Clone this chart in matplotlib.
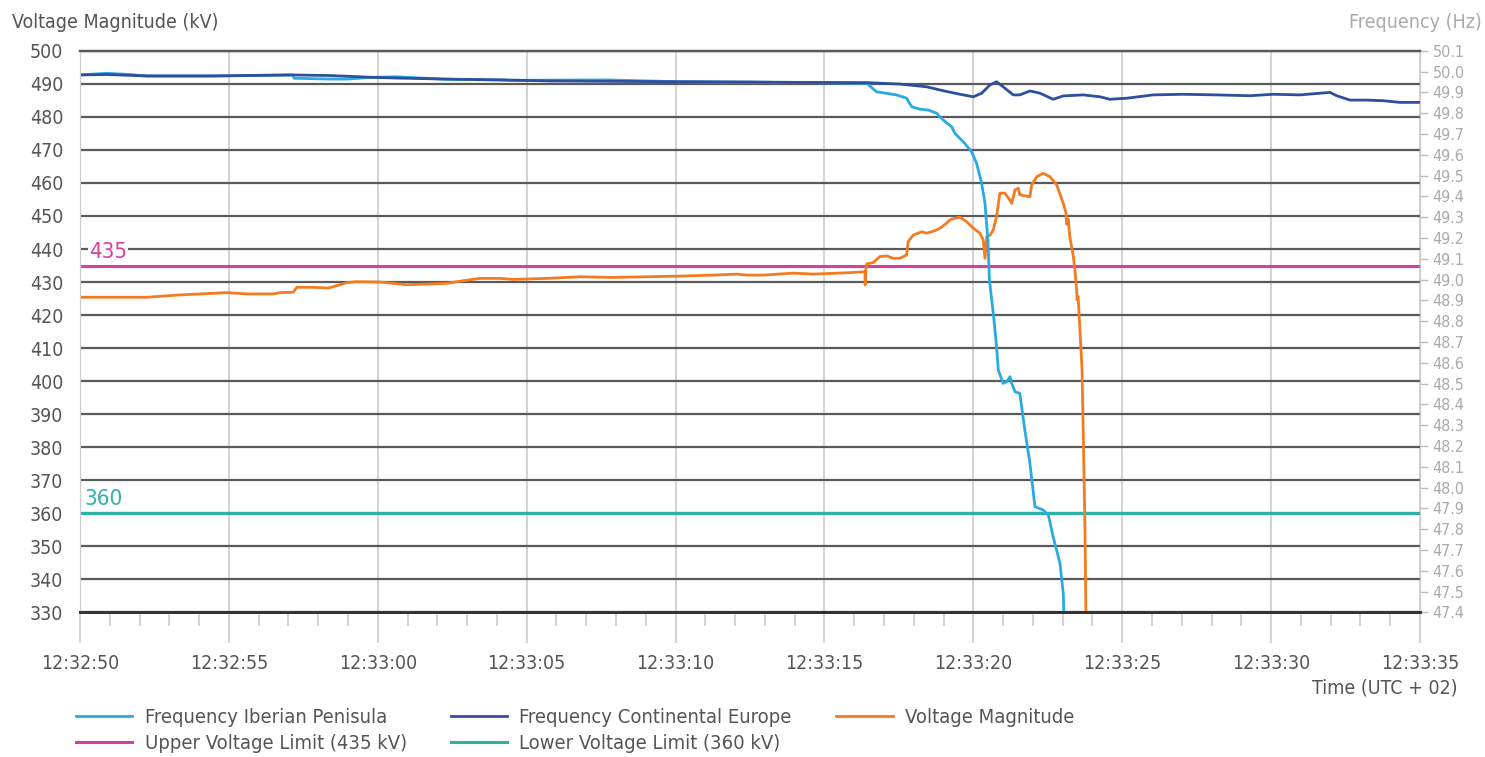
import matplotlib.pyplot as plt
from matplotlib.ticker import MultipleLocator, FixedLocator, FuncFormatter

#----- Data (seconds after 12:32:50) -----
t_volt = [0, 2.24, 3.36, 4.93, 5.60, 6.49, 6.72, 7.16, 7.28, 7.83, 8.34, 8.51, 8.96, 9.29, 10.07, 10.52,
          10.97, 11.75, 12.31, 12.87, 13.43, 14.10, 14.55, 15.67, 16.79, 17.91, 19.03, 20.15, 21.27, 22.05,
          22.39, 22.95, 23.95, 24.62, 25.75, 26.36, 26.37, 26.39, 26.42, 26.64, 26.86, 27.09, 27.31, 27.54,
          27.76, 27.81, 27.98, 28.26, 28.43, 28.60, 28.77, 28.88, 29.10, 29.21, 29.38, 29.55, 29.77, 30.00,
          30.22, 30.33, 30.39, 30.45, 30.56, 30.67, 30.78, 30.89, 31.06, 31.23, 31.29, 31.40, 31.51, 31.56,
          31.90, 31.96, 32.13, 32.35, 32.57, 32.80, 33.02, 33.11, 33.13, 33.19, 33.24, 33.36, 33.41, 33.47,
          33.48, 33.52, 33.58, 33.64, 33.65, 33.69, 33.75, 33.78]
voltage = [425.4, 425.4, 426.1, 426.8, 426.4, 426.4, 426.8, 426.9, 428.4, 428.4, 428.2, 428.6, 429.8, 430.1,
           430.0, 429.6, 429.2, 429.4, 429.6, 430.4, 431.1, 431.1, 430.8, 431.1, 431.6, 431.4, 431.6, 431.8,
           432.1, 432.4, 432.1, 432.1, 432.7, 432.4, 432.8, 433.1, 429.1, 433.7, 435.5, 435.9, 437.7, 437.9,
           437.2, 437.2, 438.2, 442.2, 444.2, 445.2, 444.8, 445.2, 445.8, 446.3, 447.8, 448.8, 449.3, 449.6,
           448.3, 446.3, 444.8, 442.7, 437.2, 443.7, 444.2, 445.8, 449.8, 456.9, 456.9, 454.8, 453.8, 457.9,
           458.4, 456.4, 455.8, 459.4, 461.9, 462.9, 461.9, 459.4, 453.8, 451.0, 447.5, 449.0, 443.7, 437.7,
           433.7, 427.6, 424.6, 425.6, 415.5, 405.4, 403.4, 385.2, 355.0, 329.8]

t_iberia = [0, 0.90, 1.68, 2.24, 4.48, 7.14, 7.19, 8.40, 8.96, 9.74, 10.63, 12.31, 14.10, 14.55, 17.69,
            20.15, 24.62, 26.30, 26.42, 26.75, 27.42, 27.76, 27.93, 28.21, 28.49, 28.77, 28.99, 29.27, 29.38,
            29.66, 29.94, 30.11, 30.28, 30.39, 30.49, 30.54, 30.67, 30.78, 30.84, 31.00, 31.12, 31.23, 31.29,
            31.40, 31.56, 31.73, 31.90, 32.07, 32.35, 32.52, 32.68, 32.91, 33.02, 33.04]
f_iberia = [49.984, 49.992, 49.986, 49.979, 49.979, 49.984, 49.968, 49.964, 49.964, 49.972, 49.975, 49.963,
            49.960, 49.958, 49.960, 49.951, 49.947, 49.944, 49.944, 49.903, 49.888, 49.872, 49.831, 49.819,
            49.815, 49.800, 49.767, 49.735, 49.703, 49.663, 49.615, 49.559, 49.463, 49.367, 49.190, 48.998,
            48.838, 48.677, 48.565, 48.501, 48.509, 48.533, 48.501, 48.461, 48.453, 48.277, 48.117, 47.908,
            47.892, 47.868, 47.764, 47.636, 47.492, 47.397]

t_europe = [0, 0.90, 2.24, 4.48, 7.14, 8.40, 9.74, 10.63, 12.31, 14.10, 15.78, 19.14, 22.50, 24.18, 26.42,
            27.54, 28.43, 28.99, 29.55, 30.00, 30.28, 30.56, 30.78, 31.00, 31.34, 31.56, 31.90, 32.24, 32.68,
            33.02, 33.69, 34.25, 34.59, 35.15, 36.04, 37.05, 38.17, 39.29, 40.07, 40.97, 41.64, 41.98, 42.20,
            42.65, 43.21, 43.77, 44.33, 45.0]
f_europe = [49.984, 49.986, 49.979, 49.979, 49.984, 49.981, 49.973, 49.969, 49.964, 49.960, 49.955, 49.952,
            49.950, 49.948, 49.947, 49.940, 49.927, 49.908, 49.891, 49.879, 49.896, 49.936, 49.951, 49.927,
            49.888, 49.888, 49.907, 49.896, 49.867, 49.883, 49.888, 49.879, 49.867, 49.872, 49.888, 49.891,
            49.888, 49.884, 49.891, 49.888, 49.896, 49.900, 49.884, 49.863, 49.863, 49.860, 49.852, 49.852]

upper_limit = 435
lower_limit = 360
x_tick_labels = ["12:32:50", "12:32:55", "12:33:00", "12:33:05", "12:33:10",
                 "12:33:15", "12:33:20", "12:33:25", "12:33:30", "12:33:35"]

c_iberia = "#29abe2"
c_europe = "#2d4f9e"
c_volt = "#f47b20"
c_upper = "#d6409c"
c_lower = "#2bb3a6"
c_text = "#555555"

#----- Plot -----
plt.rcParams["font.family"] = ["DejaVu Sans"]
plt.rcParams["font.stretch"] = "condensed"
fig = plt.figure(figsize=(14.85, 7.57), dpi=100)
ax = fig.add_axes([80/1485, 1-612.4/757, 1340/1485, 561.6/757])
ax2 = ax.twinx()

ax.set_xlim(0, 45)
ax.set_ylim(330, 500)
ax2.set_ylim(47.4, 50.1)

ax.yaxis.set_major_locator(MultipleLocator(10))
ax.grid(axis="y", color="#5a5a5a", lw=1.6)
ax.xaxis.set_minor_locator(MultipleLocator(1))
ax.grid(axis="x", which="major", color="#cccccc", lw=1.2)
ax.set_axisbelow(True)
ax.set_xticks(range(0, 46, 5))
ax.set_xticklabels(x_tick_labels)
ax.tick_params(axis="x", which="major", length=22, width=1.2, color="#cccccc",
               labelsize=14, labelcolor=c_text, pad=8)
ax.tick_params(axis="x", which="minor", length=10, width=1.2, color="#cccccc")
ax.tick_params(axis="y", length=0, labelsize=14, labelcolor=c_text, pad=12)

ax2.yaxis.set_major_locator(FixedLocator([47.4 + 0.1*i for i in range(28)]))
ax2.yaxis.set_major_formatter(FuncFormatter(lambda v, p: f"{v:.1f}"))
ax2.tick_params(axis="y", length=6, width=1, color="#bbbbbb", labelsize=11.5,
                labelcolor="#aaaaaa", pad=3)

for a in (ax, ax2):
	a.spines["left"].set_color("#cccccc")
	a.spines["right"].set_color("#cccccc")
	a.spines["top"].set_color("#5a5a5a")
	a.spines["top"].set_linewidth(1.6)
	a.spines["bottom"].set_color("#333333")
	a.spines["bottom"].set_linewidth(2)

l_up = ax.axhline(upper_limit, color=c_upper, lw=2.2, label="Upper Voltage Limit (435 kV)")
l_lo = ax.axhline(lower_limit, color=c_lower, lw=2.2, label="Lower Voltage Limit (360 kV)")
l_v, = ax.plot(t_volt, voltage, color=c_volt, lw=2, label="Voltage Magnitude")
ax.text(0.3, upper_limit + 1.2, str(upper_limit), color=c_upper, fontsize=16, va="bottom",
        bbox=dict(facecolor="white", edgecolor="none", pad=1))
ax.text(0.15, lower_limit + 1.2, str(lower_limit), color=c_lower, fontsize=16, va="bottom")

l_ib, = ax2.plot(t_iberia, f_iberia, color=c_iberia, lw=2, label="Frequency Iberian Penisula")
l_eu, = ax2.plot(t_europe, f_europe, color=c_europe, lw=2, label="Frequency Continental Europe")

fig.text(12/1485, 1-22/757, "Voltage Magnitude (kV)", fontsize=14, color=c_text, va="center")
fig.text(1482/1485, 1-22/757, "Frequency (Hz)", fontsize=14, color="#aaaaaa", va="center", ha="right")
fig.text(1458/1485, 1-688/757, "Time (UTC + 02)", fontsize=14, color=c_text, va="center", ha="right")

handles = [l_ib, l_up, l_eu, l_lo, l_v]
fig.legend(handles=handles, labels=[h.get_label() for h in handles], ncol=3,
           loc="upper left", bbox_to_anchor=(68/1485, 1-700/757), frameon=False,
           fontsize=14.5, labelcolor=c_text, handlelength=2.8, handletextpad=0.6,
           columnspacing=2.2, labelspacing=0.35, borderaxespad=0)

plt.savefig("out.png", dpi=100)
